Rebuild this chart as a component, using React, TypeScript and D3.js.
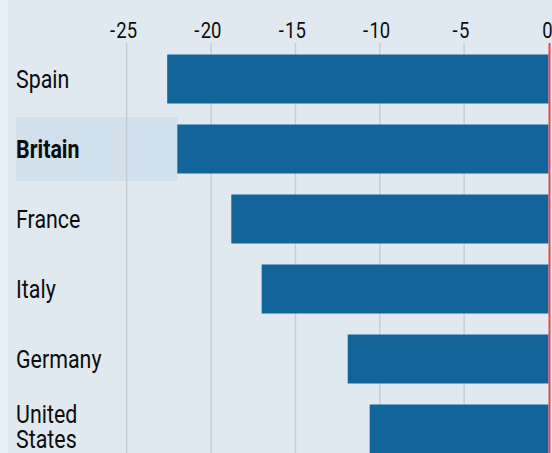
import React from "react";
import * as d3 from "d3";

const categories = ["Spain", "Britain", "France", "Italy", "Germany", "United States"];
const values = [-22.6, -22.0, -18.8, -17.0, -11.9, -10.6];
const highlighted = "Britain";
const ticks = [-25, -20, -15, -10, -5, 0];

const W = 552;
const H = 453;
const FONT = "Roboto, 'Noto Sans', sans-serif";
const SX = 0.84;

export default function App() {
  const x = d3.scaleLinear().domain([-25, 0]).range([126.7, 548.5]);
  const y = d3
    .scaleBand<string>()
    .domain(categories)
    .range([44, 464])
    .paddingInner(0.3)
    .paddingOuter(0.15);
  const bw = y.bandwidth();
  const tickFs = 22;
  const labelFs = 25.5;

  return (
    <div style={{ position: "fixed", left: 0, top: 0, width: W, height: H }}>
      <svg width={W} height={H} style={{ display: "block" }}>
        <rect x={0} y={0} width={W} height={H} fill="#e1e9f0" />
        <rect x={0} y={0} width={8} height={H} fill="#e7eef4" />
        {/* highlight band */}
        {categories.map((c, i) =>
          c === highlighted ? (
            <rect
              key={"hl" + c}
              x={16}
              y={(y(c) as number) + bw / 2 - 32}
              width={x(values[i]) - 16}
              height={64}
              fill="#d1e0ea"
            />
          ) : null
        )}
        {/* gridlines */}
        {ticks
          .filter((t) => t !== 0)
          .map((t) => (
            <line
              key={"g" + t}
              x1={x(t)}
              x2={x(t)}
              y1={43}
              y2={H}
              stroke="#c3ced7"
              strokeWidth={1.5}
            />
          ))}
        {/* tick labels */}
        {ticks.map((t) => {
          const digits = String(Math.abs(t));
          const half = (digits.length * 0.562 * tickFs) / 2;
          return (
            <g key={"t" + t} transform={`translate(${x(t) - (t === 0 ? 1 : 0)},38) scale(${SX},1)`}>
              <text x={0} y={0} textAnchor="middle" fontFamily={FONT} fontSize={tickFs} fill="#0d0d0d">
                {digits}
              </text>
              {t < 0 ? (
                <text x={-half - 1.5} y={0} textAnchor="end" fontFamily={FONT} fontSize={tickFs} fill="#0d0d0d">
                  -
                </text>
              ) : null}
            </g>
          );
        })}
        {/* bars */}
        {categories.map((c, i) => (
          <rect
            key={"b" + c}
            x={x(values[i])}
            y={y(c) as number}
            width={x(0) - x(values[i])}
            height={bw}
            fill="#14649c"
          />
        ))}
        {/* zero line */}
        <line x1={x(0) + 1} x2={x(0) + 1} y1={43} y2={H} stroke="#e5484a" strokeWidth={2} />
        {/* category labels */}
        {categories.map((c) => {
          const cy = (y(c) as number) + bw / 2;
          const words = c === "United States" ? ["United", "States"] : [c];
          return (
            <g key={"l" + c} transform={`translate(16,0) scale(${SX},1)`}>
              {words.map((w, j) => (
                <text
                  key={w}
                  x={0}
                  y={words.length > 1 ? cy - 6 + j * 25 : cy + 9}
                  fontFamily={FONT}
                  fontSize={labelFs}
                  fontWeight={c === highlighted ? 700 : 400}
                  fill="#0d0d0d"
                >
                  {w}
                </text>
              ))}
            </g>
          );
        })}
      </svg>
    </div>
  );
}
